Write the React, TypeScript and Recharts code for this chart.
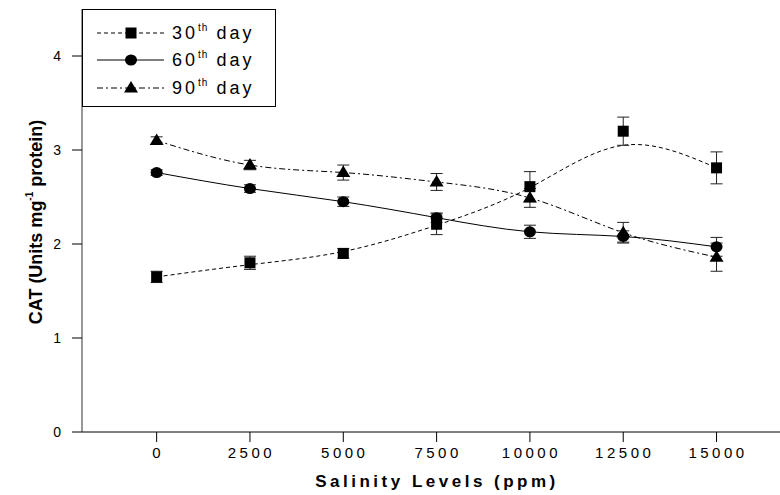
import React from 'react';
import { ComposedChart, Line, XAxis, YAxis, ErrorBar, Legend, Label } from 'recharts';

const salinity = [0, 2500, 5000, 7500, 10000, 12500, 15000];
const xTicks = [0, 2500, 5000, 7500, 10000, 12500, 15000];
const yTicks = [0, 1, 2, 3, 4];

const day30 = [1.65, 1.8, 1.9, 2.21, 2.61, 3.2, 2.81];
const day30Err = [0.06, 0.07, 0.05, 0.11, 0.16, 0.15, 0.17];
const day30Fit = [1.65, 1.78, 1.92, 2.2, 2.6, 3.05, 2.81];
const day60 = [2.76, 2.59, 2.45, 2.28, 2.13, 2.08, 1.97];
const day60Err = [0.03, 0.04, 0.05, 0.05, 0.07, 0.06, 0.1];
const day90 = [3.1, 2.84, 2.76, 2.66, 2.49, 2.12, 1.86];
const day90Err = [0.04, 0.05, 0.08, 0.09, 0.1, 0.11, 0.15];

const legendItems = [
  { num: '30', dash: '4 3', shape: 'square' },
  { num: '60', dash: undefined, shape: 'circle' },
  { num: '90', dash: '6 3 2 3', shape: 'triangle' },
];

const data = salinity.map((s, i) => ({
  s,
  d30: day30[i],
  e30: day30Err[i],
  f30: day30Fit[i],
  d60: day60[i],
  e60: day60Err[i],
  d90: day90[i],
  e90: day90Err[i],
}));

const FONT = 'Arial, "Liberation Sans", Helvetica, sans-serif';

function Marker({ shape, cx, cy }: { shape: string; cx: number; cy: number }) {
  if (cx == null || cy == null) return null;
  if (shape === 'square') {
    return <rect x={cx - 5.5} y={cy - 5.5} width={11} height={11} fill="#000" />;
  }
  if (shape === 'circle') {
    return <ellipse cx={cx} cy={cy} rx={6} ry={5.5} fill="#000" />;
  }
  return (
    <polygon
      points={`${cx},${cy - 7} ${cx - 7},${cy + 4.5} ${cx + 7},${cy + 4.5}`}
      fill="#000"
    />
  );
}

const mkDot = (shape: string) => (props: any) => (
  <Marker key={`${shape}-${props.index}`} shape={shape} cx={props.cx} cy={props.cy} />
);

const XTick = (props: any) => {
  const { x, y, payload } = props;
  return (
    <text x={x + 1.5} y={y + 14} textAnchor="middle" fontFamily={FONT} fontSize={15} letterSpacing={3.5} fill="#000">
      {payload.value}
    </text>
  );
};

const YTick = (props: any) => {
  const { x, y, payload } = props;
  return (
    <text x={x - 9} y={y + 5} textAnchor="end" fontFamily={FONT} fontSize={14} fill="#000">
      {payload.value}
    </text>
  );
};

const renderLegend = () => (
  <svg width={194} height={98} style={{ display: 'block' }}>
    <rect x={0.5} y={0.5} width={193} height={97} fill="#fff" stroke="#000" strokeWidth={1} />
    {legendItems.map((it, i) => {
      const cy = [24, 51, 79][i];
      return (
        <g key={it.num}>
          <line x1={15} x2={82} y1={cy} y2={cy} stroke="#000" strokeWidth={1} strokeDasharray={it.dash} />
          <Marker shape={it.shape} cx={49} cy={cy} />
          <text x={90} y={cy + 6} fontFamily={FONT} fontSize={18} letterSpacing={3} fill="#000">
            {it.num}
            <tspan fontSize={10} dy={-8} letterSpacing={1}>th</tspan>
            <tspan fontSize={18} dy={8}>{' day'}</tspan>
          </text>
        </g>
      );
    })}
  </svg>
);

const YTitle = (props: any) => (
  <text
    transform="translate(42,222) rotate(-90)"
    textAnchor="middle"
    fontFamily={FONT}
    fontSize={18}
    fontWeight="bold"
    fill="#000"
  >
    CAT (Units mg
    <tspan fontSize={10} dy={-9}>-1</tspan>
    <tspan fontSize={18} dy={9}>{'   protein)'}</tspan>
  </text>
);

const XTitle = (props: any) => (
  <text x={437} y={487} textAnchor="middle" fontFamily={FONT} fontSize={17} fontWeight="bold" letterSpacing={3.5} fill="#000">
    Salinity Levels (ppm)
  </text>
);

export default function App() {
  return (
    <div style={{ position: 'absolute', left: 0, top: 0, width: 780, height: 495, background: '#fff' }}>
      <ComposedChart width={780} height={495} data={data} margin={{ top: 9, right: 0, bottom: 0, left: 0 }}>
        <XAxis
          dataKey="s"
          type="number"
          domain={[-2000, 16700]}
          ticks={xTicks}
          tick={<XTick />}
          tickSize={10}
          height={63}
          stroke="#000"
          tickLine={{ stroke: '#000' }}
          allowDataOverflow
        >
          <Label content={<XTitle />} />
        </XAxis>
        <YAxis
          type="number"
          domain={[0, 4.5]}
          ticks={yTicks}
          tick={<YTick />}
          tickSize={10}
          width={82}
          stroke="#333"
          tickLine={{ stroke: '#000' }}
          allowDataOverflow
        >
          <Label content={<YTitle />} />
        </YAxis>
        <Legend
          layout="vertical"
          verticalAlign="middle"
          align="center"
          content={renderLegend}
          wrapperStyle={{ left: 82, top: 9, width: 194, height: 98 }}
        />
        <Line
          dataKey="f30"
          type="natural"
          stroke="#000"
          strokeWidth={1}
          strokeDasharray="4 3"
          dot={false}
          activeDot={false}
          isAnimationActive={false}
          legendType="none"
        />
        <Line
          dataKey="d60"
          type="natural"
          stroke="#000"
          strokeWidth={1}
          dot={mkDot('circle')}
          activeDot={false}
          isAnimationActive={false}
        >
          <ErrorBar dataKey="e60" width={6} stroke="#222" strokeWidth={1} direction="y" />
        </Line>
        <Line
          dataKey="d90"
          type="natural"
          stroke="#000"
          strokeWidth={1}
          strokeDasharray="6 3 2 3"
          dot={mkDot('triangle')}
          activeDot={false}
          isAnimationActive={false}
        >
          <ErrorBar dataKey="e90" width={6} stroke="#222" strokeWidth={1} direction="y" />
        </Line>
        <Line
          dataKey="d30"
          type="linear"
          stroke="none"
          dot={mkDot('square')}
          activeDot={false}
          isAnimationActive={false}
        >
          <ErrorBar dataKey="e30" width={6} stroke="#222" strokeWidth={1} direction="y" />
        </Line>
      </ComposedChart>
    </div>
  );
}
